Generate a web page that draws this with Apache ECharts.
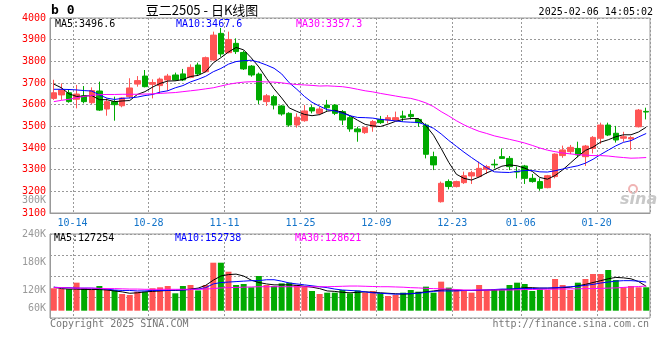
<!DOCTYPE html>
<html><head><meta charset="utf-8">
<script src="https://cdn.jsdelivr.net/npm/echarts@6/dist/echarts.min.js"></script>
<style>html,body{margin:0;padding:0;background:#fff}#c{width:660px;height:360px}</style>
</head><body><div id="c"></div>
<script>
// ---------- data ----------
const dates = [
 '2024-10-09','2024-10-10','2024-10-11','2024-10-14','2024-10-15','2024-10-16','2024-10-17','2024-10-18','2024-10-21','2024-10-22',
 '2024-10-23','2024-10-24','2024-10-25','2024-10-28','2024-10-29','2024-10-30','2024-10-31','2024-11-01','2024-11-04','2024-11-05',
 '2024-11-06','2024-11-07','2024-11-08','2024-11-11','2024-11-12','2024-11-13','2024-11-14','2024-11-15','2024-11-18','2024-11-19',
 '2024-11-20','2024-11-21','2024-11-22','2024-11-25','2024-11-26','2024-11-27','2024-11-28','2024-11-29','2024-12-02','2024-12-03',
 '2024-12-04','2024-12-05','2024-12-06','2024-12-09','2024-12-10','2024-12-11','2024-12-12','2024-12-13','2024-12-16','2024-12-17',
 '2024-12-18','2024-12-19','2024-12-20','2024-12-23','2024-12-24','2024-12-25','2024-12-26','2024-12-27','2024-12-30','2024-12-31',
 '2025-01-02','2025-01-03','2025-01-06','2025-01-07','2025-01-08','2025-01-09','2025-01-10','2025-01-13','2025-01-14','2025-01-15',
 '2025-01-16','2025-01-17','2025-01-20','2025-01-21','2025-01-22','2025-01-23','2025-01-24','2025-02-05','2025-02-06'];
const opens = [3629,3645,3655,3625,3641,3609,3663,3580,3614,3595,3637,3695,3732,3694,3688,3714,3737,3742,3726,3783,
 3752,3806,3929,3840,3883,3841,3778,3741,3614,3637,3594,3560,3506,3526,3586,3560,3598,3598,3568,3540,
 3488,3471,3498,3532,3529,3529,3548,3555,3532,3506,3360,3152,3245,3222,3240,3271,3268,3302,3325,3360,
 3352,3292,3317,3260,3245,3217,3268,3365,3383,3398,3360,3398,3445,3506,3468,3445,3442,3498,3569];
const closes = [3655,3668,3614,3649,3614,3665,3575,3614,3600,3631,3677,3711,3683,3702,3718,3732,3714,3714,3772,3742,
 3817,3921,3834,3901,3845,3765,3737,3622,3641,3598,3557,3506,3542,3571,3571,3580,3586,3560,3529,3488,
 3475,3494,3522,3517,3540,3540,3540,3545,3517,3371,3322,3237,3222,3245,3272,3286,3306,3314,3322,3352,
 3314,3289,3260,3245,3214,3272,3372,3391,3403,3368,3409,3449,3506,3460,3437,3452,3448,3575,3566];
const lows = [3622,3622,3609,3583,3606,3603,3571,3549,3526,3588,3629,3683,3680,3629,3652,3663,3711,3709,3722,3737,
 3749,3803,3821,3837,3834,3760,3729,3603,3594,3578,3549,3498,3494,3521,3560,3552,3572,3552,3506,3475,
 3429,3465,3475,3511,3514,3526,3522,3532,3498,3352,3298,3148,3209,3218,3234,3234,3265,3280,3306,3350,
 3298,3260,3234,3240,3203,3214,3260,3355,3372,3357,3317,3375,3419,3455,3425,3429,3391,3495,3532];
const highs = [3715,3698,3671,3691,3686,3680,3706,3629,3637,3634,3722,3732,3760,3717,3725,3742,3748,3765,3786,3794,
 3822,3937,3954,3937,3906,3849,3783,3748,3649,3645,3598,3565,3560,3598,3598,3591,3622,3603,3575,3548,
 3498,3498,3529,3548,3552,3568,3572,3575,3537,3514,3383,3245,3255,3249,3291,3295,3337,3322,3348,3398,
 3363,3314,3322,3280,3260,3276,3375,3411,3414,3429,3414,3455,3517,3517,3502,3475,3455,3580,3586];
const ma5 = [3695,3678,3650,3638,3640,3642,3623,3623,3614,3617,3619,3647,3660,3681,3698,3709,3710,3716,3730,3735,
 3752,3793,3817,3843,3864,3853,3816,3774,3722,3673,3631,3585,3569,3555,3549,3554,3570,3574,3565,3549,
 3528,3509,3502,3499,3510,3523,3532,3536,3536,3503,3459,3398,3334,3279,3260,3252,3266,3285,3300,3316,
 3322,3318,3307,3292,3264,3256,3273,3299,3330,3361,3389,3404,3427,3438,3452,3461,3461,3474,3496];
const ma10 = [3671,3671,3670,3668,3665,3663,3645,3630,3624,3629,3631,3635,3642,3647,3658,3664,3678,3688,3705,3717,
 3731,3752,3767,3787,3799,3803,3805,3796,3783,3768,3742,3701,3671,3638,3611,3593,3577,3571,3560,3549,
 3541,3540,3538,3532,3529,3525,3521,3519,3518,3506,3491,3465,3435,3408,3381,3356,3332,3309,3290,3288,
 3287,3292,3296,3296,3290,3289,3295,3303,3311,3318,3330,3348,3370,3390,3410,3426,3434,3451,3467];
const ma30 = [3614,3620,3625,3632,3638,3643,3646,3647,3647,3648,3648,3648,3649,3650,3652,3654,3656,3660,3664,3668,
 3673,3678,3686,3694,3700,3704,3706,3706,3705,3704,3701,3696,3693,3691,3689,3686,3687,3685,3683,3678,
 3671,3664,3659,3652,3646,3640,3634,3629,3620,3608,3591,3568,3548,3526,3507,3491,3477,3467,3456,3448,
 3440,3432,3423,3412,3400,3390,3383,3377,3373,3369,3367,3365,3365,3363,3359,3356,3353,3354,3356];
const volumes = [123700,122100,122000,135700,123700,120000,128600,122000,120000,111400,109300,116400,116400,123700,125800,128600,112900,128600,130700,119000,
 130700,178500,178500,159200,130700,132900,125800,150000,130700,128600,134300,135700,130700,127200,117900,111400,114300,114300,120000,112900,
 119000,114300,117900,112900,107100,109300,114300,120000,116400,127200,114300,137900,125100,120000,119000,114300,130700,119000,122000,122000,
 130700,135700,132900,117900,122000,120000,143600,130700,120000,135700,143600,154300,154300,162900,141400,125800,128600,125800,125800];
const volMa5 = [126,123,122,122,121,121,121,120,118,116,113,114,116,117,118,119,119,120,122,124,
 130,141,150,153,154,150,141,136,133,131,131,131,130,128,126,123,118,117,115,114,
 115,116,115,114,113,112,111,112,114,116,118,120,121,120,119,119,119,120,120,121,
 121,123,125,125,124,124,124,125,126,129,132,136,140,144,147,146,144,138,128].map(v => v * 1000);
const volMa10 = [126,125,125,124,124,124,123,122,120,119,119,118,118,119,119,119,120,120,121,122,
 125,133,136,137,138,139,140,140,142,142,139,135,133,131,129,127,125,122,120,119,
 118,116,114,113,112,111,112,112,113,115,117,118,118,118,119,119,120,120,121,122,
 122,123,123,123,124,124,125,126,127,128,130,132,135,137,139,140,140,139,137].map(v => v * 1000);
const volMa30 = [125,125,124.5,124,124,124,123.5,123,123,122.5,122,122,121.5,121.5,121.5,121.5,121.5,121.5,121.5,121.5,
 122,123,124.5,125,125.5,126,126.5,127,127,127,127,127,127,127,127,127,127,127.5,128,128.5,
 128.5,128,127.5,127,127,126.5,126,125,124.5,123.5,123,122.5,122,121,120,120,120,120,120,120,
 120,120.5,121,121,121.5,121.5,122,122,122.5,122.5,123,123,123.5,124,124.5,125.5,126.5,127.5,128.5].map(v => v * 1000);
const tickLabels = ['10-14','10-28','11-11','11-25','12-09','12-23','01-06','01-20'];
const priceMin = 3100, priceMax = 4000, priceStep = 100;
const volMin = 60000, volMax = 240000, volStep = 60000;
const priceLegend = ['MA5:3496.6','MA10:3467.6','MA30:3357.3'];
const volLegend = ['MA5:127254','MA10:152738','MA30:128621'];
const titleText = '豆二2505 - 日K线图';
const codeText = 'b 0';
const timeText = '2025-02-06 14:05:02';
const extraPriceAxisText = '300K';

// ---------- styles ----------
const RED = '#ff5555', GREEN = '#00aa00';
const MONO = '"DejaVu Sans Mono", "Liberation Mono", monospace';
const GRID_C = '#999';
const legendColors = ['#000000', '#0000ff', '#ff00ff'];
const legendX = [55, 176, 296];

const tickIdx = dates.map((d, i) => tickLabels.includes(d.slice(5)) ? i : -1).filter(i => i >= 0);
const isTick = i => tickIdx.indexOf(i) >= 0;
const dotted = { color: GRID_C, type: [2, 2], width: 1 };

const chart = echarts.init(document.getElementById('c'), null, { renderer: 'canvas' });

function txt(x, y, text, color, opts) {
  opts = opts || {};
  const align = opts.align || 'left';
  return {
    type: 'text', x: x, y: y, z: 100, silent: true,
    style: {
      text: text, fill: color,
      font: (opts.weight || 'normal') + ' ' + (opts.size || 10) + 'px ' + (opts.family || MONO),
      align: align, textAlign: align, verticalAlign: 'middle', textVerticalAlign: 'middle'
    }
  };
}

const graphics = [
  txt(51, 11, codeText, '#000', { size: 13, weight: 'bold' }),
  txt(202, 10, titleText, '#000', { size: 13, align: 'center', family: '"Noto Sans CJK SC", sans-serif' }),
  txt(653, 12, timeText, '#000', { align: 'right' }),
  txt(46, 200, extraPriceAxisText, '#999', { align: 'right' }),
  txt(50, 324, 'Copyright 2025 SINA.COM', '#777'),
  txt(649, 324, 'http://finance.sina.com.cn', '#777', { align: 'right' }),
  txt(620, 200, 'sina', '#c8c8c8', { size: 16, weight: 'italic bold', family: '"DejaVu Sans", sans-serif' }),
  { type: 'circle', z: 99, silent: true, shape: { cx: 633, cy: 189, r: 4 }, style: { fill: 'none', stroke: '#f0b4b4', lineWidth: 2 } }
];
priceLegend.forEach((t, i) => graphics.push(txt(legendX[i], 24, t, legendColors[i])));
volLegend.forEach((t, i) => graphics.push(txt(legendX[i] - 1, 238, t, legendColors[i])));

const candleData = dates.map((d, i) => [opens[i], closes[i], lows[i], highs[i]]);

function maLine(name, data, color, xi, yi) {
  return { name: name, type: 'line', xAxisIndex: xi, yAxisIndex: yi, data: data, symbol: 'none',
    lineStyle: { color: color, width: 1 }, itemStyle: { color: color }, silent: true, z: 5 };
}

const option = {
  animation: false,
  backgroundColor: '#fff',
  grid: [
    { left: 50, right: 10, top: 18, height: 195, show: true, borderColor: GRID_C, borderWidth: 1, backgroundColor: 'transparent' },
    { left: 50, right: 10, top: 234, height: 84, show: true, borderColor: GRID_C, borderWidth: 1, backgroundColor: 'transparent' },
    { left: 50, right: 10, top: 234, height: 76.7 }
  ],
  xAxis: [
    { type: 'category', gridIndex: 0, data: dates, boundaryGap: true,
      axisLine: { lineStyle: { color: GRID_C } }, axisTick: { show: false },
      axisLabel: { interval: (i) => isTick(i), formatter: v => v.slice(5), color: '#1273c9',
        fontFamily: MONO, fontSize: 10, margin: 5, padding: [0, 8, 0, 0] },
      splitLine: { show: true, interval: (i) => isTick(i), lineStyle: dotted } },
    { type: 'category', gridIndex: 1, data: dates, boundaryGap: true,
      axisLine: { show: false }, axisTick: { show: false }, axisLabel: { show: false },
      splitLine: { show: true, interval: (i) => isTick(i), lineStyle: dotted } },
    { type: 'category', gridIndex: 2, data: dates, boundaryGap: true, show: false }
  ],
  yAxis: [
    { type: 'value', gridIndex: 0, min: priceMin, max: priceMax, interval: priceStep,
      axisLine: { show: true, lineStyle: { color: GRID_C } }, axisTick: { show: false },
      axisLabel: { color: '#ff0000', fontFamily: MONO, fontSize: 10, margin: 4, padding: [0, 0, 5, 0],
        formatter: v => String(v) },
      splitLine: { show: true, lineStyle: dotted } },
    { type: 'value', gridIndex: 1, min: volMin, max: volMax, interval: volStep,
      axisLine: { show: true, lineStyle: { color: GRID_C } }, axisTick: { show: false },
      axisLabel: { color: '#999', fontFamily: MONO, fontSize: 10, margin: 4, padding: [0, 0, 5, 0],
        formatter: v => (v / 1000) + 'K', verticalAlignMinLabel: 'bottom' },
      splitLine: { show: false } },
    { type: 'value', gridIndex: 1, min: 0, max: 4, interval: 1, position: 'left',
      axisLine: { show: false }, axisTick: { show: false }, axisLabel: { show: false },
      splitLine: { show: true, lineStyle: dotted } },
    { type: 'value', gridIndex: 2, min: volMin + (volMax - volMin) * (7.3 / 84), max: volMax, show: false,
      splitLine: { show: false } }
  ],
  series: [
    { type: 'candlestick', xAxisIndex: 0, yAxisIndex: 0, data: candleData, barWidth: 6, silent: true, z: 3,
      itemStyle: { color: RED, color0: GREEN, borderColor: RED, borderColor0: GREEN, borderWidth: 1 } },
    maLine('MA5', ma5, '#000000', 0, 0),
    maLine('MA10', ma10, '#0000ff', 0, 0),
    maLine('MA30', ma30, '#ff00ff', 0, 0),
    { type: 'bar', xAxisIndex: 2, yAxisIndex: 3, barWidth: 6, silent: true, clip: true, z: 3,
      data: volumes.map((v, i) => ({ value: v, itemStyle: { color: closes[i] >= opens[i] ? RED : GREEN } })) },
    maLine('VMA5', volMa5, '#000000', 2, 3),
    maLine('VMA10', volMa10, '#0000ff', 2, 3),
    maLine('VMA30', volMa30, '#ff00ff', 2, 3)
  ],
  graphic: graphics
};
chart.setOption(option);
</script>
</body></html>
